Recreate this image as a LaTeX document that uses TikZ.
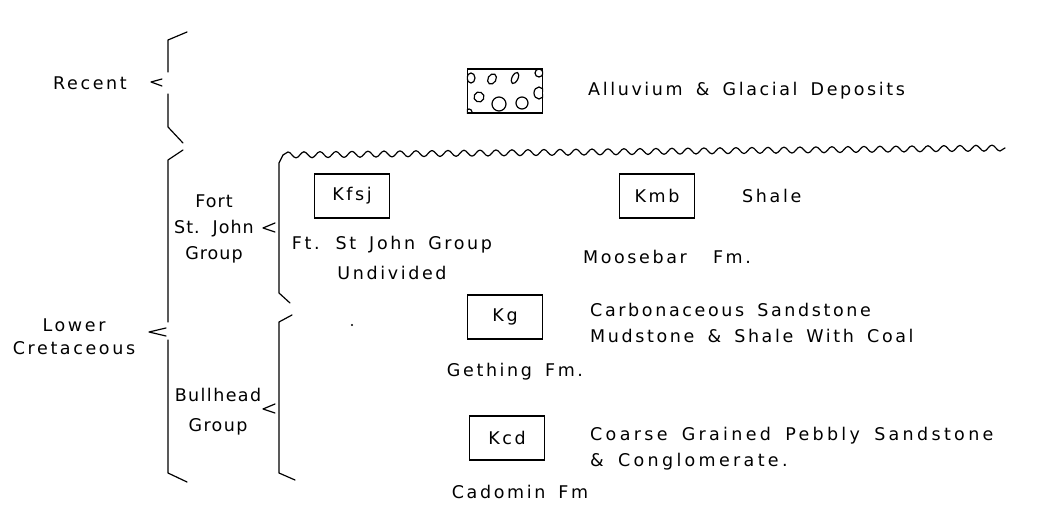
\documentclass[tikz,border=0pt]{standalone}
\usepackage{fontspec}
\setmainfont{DejaVu Sans}[LetterSpace=15,WordSpace=1.6]
\usetikzlibrary{decorations.pathmorphing}
\newcommand\lbfont{\fontsize{17.5}{26}\selectfont}

\begin{document}
\begin{tikzpicture}[x=1pt,y=-1pt,
  brc/.style={line width=1.2pt,line join=round,line cap=round},
  lbl/.style={font=\lbfont,inner sep=0pt,align=center},
  rlbl/.style={font=\lbfont,inner sep=0pt,align=left,anchor=west},
  unitbox/.style={draw,line width=1.3pt,minimum width=75pt,minimum height=44pt,inner sep=0pt,font=\lbfont}]
  \useasboundingbox (0,0) rectangle (1049,518);
  % braces, left column
  \draw[brc] (187,32) -- (168,40) -- (168,72);
  \draw[brc] (168,94) -- (168,127) -- (183,143);
  \draw[brc] (162,79) -- (151,82) -- (162,86);
  \draw[brc] (183,150) -- (168,160) -- (168,322);
  \draw[brc] (168,340) -- (168,473) -- (187,482);
  \draw[brc] (166,328) -- (149,332) -- (166,336);
  % braces, groups
  \draw[brc] (283,155) -- (279,163) -- (279,293) -- (290,303);
  \draw[brc] (275,223) -- (263,228) -- (275,232);
  \draw[brc] (292,315) -- (279,322) -- (279,473) -- (295,480);
  \draw[brc] (275,404) -- (263,409) -- (275,413);
  % unconformity
  \draw[brc,decorate,decoration={snake,segment length=16pt,amplitude=3pt}]
    (283,155) -- (1005,148);
  % age and group labels
  \node[lbl] (recent) at (90,83) {Recent};
  \node[lbl] (lowcret) at (74,337) {Lower\\[-3pt]Cretaceous};
  \node[lbl,font=\lbfont\addfontfeatures{LetterSpace=6}] (fsjgrp) at (214,229) {Fort\\St. John\\Group};
  \node[lbl,font=\lbfont\addfontfeatures{LetterSpace=8}] (bullgrp) at (218,412) {Bullhead\\[4pt]Group};
  % alluvium
  \node[unitbox] (qal) at (505,91) {};
  \begin{scope}
    \clip (qal.south west) rectangle (qal.north east);
    \foreach \x/\y/\rx/\ry/\a in {471/78/4/5/0,492/79/4/5.5/-30,515/78/3/6/-25,539/73/4/4/0,
      479/97/5/5/20,499/104/7/7/0,522/103/6/6/0,539/93/5/6/0,469/112/3/3/0}{
      \draw[line width=1.2pt] (\x,\y) ellipse[x radius=\rx,y radius=\ry,rotate=\a];}
  \end{scope}
  \node[rlbl] (qaltxt) at (588,91) {Alluvium \& Glacial Deposits};
  % formations
  \node[unitbox] (kfsj) at (352,196) {Kfsj};
  \node[lbl] (kfsjtxt) at (392,258) {Ft. St John Group\\[4pt]Undivided};
  \node[unitbox] (kmb) at (657,196) {Kmb};
  \node[rlbl] (kmbrock) at (742,196) {Shale};
  \node[lbl] (kmbtxt) at (667,257) {Moosebar\ \ Fm.};
  \node[unitbox] (kg) at (505,317) {Kg};
  \node[rlbl] (kgrock) at (590,323) {Carbonaceous Sandstone\\Mudstone \& Shale With Coal};
  \node[lbl] (kgtxt) at (515,372) {Gething Fm.};
  \fill (352,325) circle (1.2);
  \node[unitbox] (kcd) at (507,438) {Kcd};
  \node[rlbl,font=\lbfont\addfontfeatures{LetterSpace=19}] (kcdrock) at (590,449) {Coarse Grained Pebbly Sandstone\\\& Conglomerate.};
  \node[lbl] (kcdtxt) at (520,492) {Cadomin Fm};
\end{tikzpicture}
\end{document}
